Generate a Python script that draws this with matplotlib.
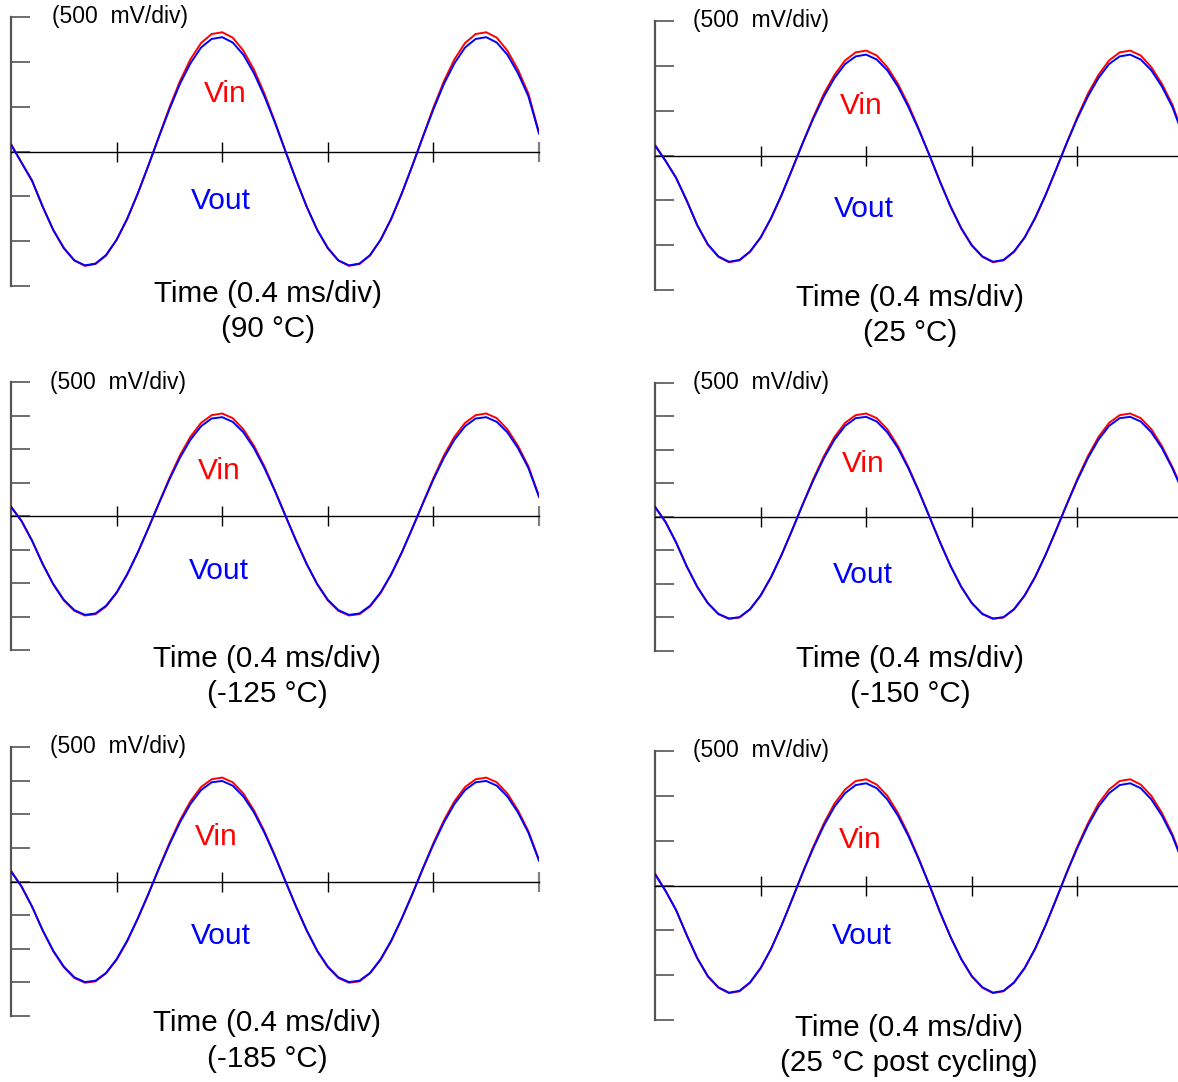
import matplotlib.pyplot as plt

plt.rcParams['font.family'] = ['Liberation Sans', 'DejaVu Sans']

W, H = 1178, 1082
fig = plt.figure(figsize=(W / 100, H / 100), dpi=100)

# time axis in divisions (0.4 ms/div)
t = [0.0, 0.1, 0.2, 0.3, 0.4, 0.5, 0.6, 0.7, 0.8, 0.9,
     1.0, 1.1, 1.2, 1.3, 1.4, 1.5, 1.6, 1.7, 1.8, 1.9,
     2.0, 2.1, 2.2, 2.3, 2.4, 2.5, 2.6, 2.7, 2.8, 2.9,
     3.0, 3.1, 3.2, 3.3, 3.4, 3.5, 3.6, 3.7, 3.8, 3.9,
     4.0, 4.1, 4.2, 4.3, 4.4, 4.5, 4.6, 4.7, 4.8, 4.9, 5.0]

# traces in vertical divisions (500 mV/div)
vout_90 = [0.15, -0.25, -0.65, -1.23, -1.75, -2.15, -2.43, -2.54, -2.50, -2.31, -1.97, -1.50, -0.94, -0.32,
           0.32, 0.94, 1.51, 1.97, 2.32, 2.51, 2.55, 2.43, 2.16, 1.75, 1.23, 0.64, 0.00,
           -0.63, -1.23, -1.75, -2.15, -2.43, -2.54, -2.50, -2.31, -1.97, -1.50, -0.94, -0.32,
           0.32, 0.94, 1.51, 1.97, 2.32, 2.51, 2.55, 2.43, 2.16, 1.75, 1.23, 0.40]
vin_90 = [0.17, -0.25, -0.66, -1.23, -1.75, -2.16, -2.43, -2.55, -2.51, -2.32, -1.97, -1.51, -0.94, -0.32,
          0.33, 0.98, 1.57, 2.06, 2.42, 2.62, 2.66, 2.54, 2.25, 1.83, 1.29, 0.66, 0.00,
          -0.64, -1.23, -1.75, -2.16, -2.43, -2.55, -2.51, -2.32, -1.97, -1.51, -0.94, -0.32,
          0.33, 0.98, 1.57, 2.06, 2.42, 2.62, 2.66, 2.54, 2.25, 1.83, 1.29, 0.42]

vout_25 = [0.22, -0.12, -0.50, -1.00, -1.55, -1.98, -2.25, -2.37, -2.33, -2.14, -1.83, -1.39, -0.87, -0.30,
           0.28, 0.83, 1.32, 1.73, 2.04, 2.21, 2.25, 2.14, 1.90, 1.54, 1.08, 0.56, 0.00,
           -0.59, -1.14, -1.62, -2.00, -2.25, -2.37, -2.33, -2.14, -1.83, -1.39, -0.87, -0.30,
           0.28, 0.83, 1.32, 1.73, 2.04, 2.21, 2.25, 2.14, 1.90, 1.54, 1.08, 0.45]
vin_25 = [0.24, -0.12, -0.50, -1.01, -1.56, -1.99, -2.26, -2.38, -2.34, -2.15, -1.83, -1.40, -0.88, -0.30,
          0.29, 0.86, 1.38, 1.80, 2.12, 2.30, 2.34, 2.23, 1.97, 1.60, 1.13, 0.58, 0.00,
          -0.59, -1.15, -1.63, -2.01, -2.26, -2.38, -2.34, -2.15, -1.83, -1.40, -0.88, -0.30,
          0.29, 0.86, 1.38, 1.80, 2.12, 2.30, 2.34, 2.23, 1.97, 1.60, 1.13, 0.47]

vout_m125 = [0.27, -0.15, -0.74, -1.43, -2.03, -2.50, -2.81, -2.95, -2.91, -2.68, -2.28, -1.74, -1.09, -0.37,
             0.37, 1.09, 1.74, 2.28, 2.68, 2.91, 2.95, 2.81, 2.50, 2.03, 1.43, 0.74, 0.00,
             -0.74, -1.43, -2.03, -2.50, -2.81, -2.95, -2.91, -2.68, -2.28, -1.74, -1.09, -0.37,
             0.37, 1.09, 1.74, 2.28, 2.68, 2.91, 2.95, 2.81, 2.50, 2.03, 1.43, 0.57]
vin_m125 = [0.29, -0.15, -0.74, -1.44, -2.04, -2.52, -2.83, -2.97, -2.93, -2.70, -2.30, -1.75, -1.10, -0.37,
            0.38, 1.13, 1.81, 2.37, 2.78, 3.01, 3.06, 2.92, 2.59, 2.10, 1.48, 0.76, 0.00,
            -0.74, -1.44, -2.04, -2.52, -2.83, -2.97, -2.93, -2.70, -2.30, -1.75, -1.10, -0.37,
            0.38, 1.13, 1.81, 2.37, 2.78, 3.01, 3.06, 2.92, 2.59, 2.10, 1.48, 0.59]

vout_m150 = [0.30, -0.15, -0.76, -1.47, -2.08, -2.57, -2.89, -3.03, -2.99, -2.75, -2.34, -1.79, -1.12, -0.38,
             0.38, 1.10, 1.76, 2.31, 2.72, 2.95, 2.99, 2.85, 2.53, 2.06, 1.45, 0.75, 0.00,
             -0.76, -1.47, -2.08, -2.57, -2.89, -3.03, -2.99, -2.75, -2.34, -1.79, -1.12, -0.38,
             0.38, 1.10, 1.76, 2.31, 2.72, 2.95, 2.99, 2.85, 2.53, 2.06, 1.45, 0.75]
vin_m150 = [0.31, -0.15, -0.76, -1.47, -2.09, -2.57, -2.90, -3.04, -3.00, -2.76, -2.35, -1.79, -1.12, -0.38,
            0.39, 1.14, 1.82, 2.39, 2.81, 3.04, 3.09, 2.95, 2.62, 2.12, 1.49, 0.77, 0.00,
            -0.76, -1.47, -2.09, -2.57, -2.90, -3.04, -3.00, -2.76, -2.35, -1.79, -1.12, -0.38,
            0.39, 1.14, 1.82, 2.39, 2.81, 3.04, 3.09, 2.95, 2.62, 2.12, 1.49, 0.77]

vout_m185 = [0.30, -0.15, -0.75, -1.45, -2.06, -2.53, -2.85, -2.99, -2.95, -2.72, -2.31, -1.76, -1.10, -0.38,
             0.38, 1.10, 1.76, 2.31, 2.72, 2.95, 2.99, 2.85, 2.53, 2.06, 1.45, 0.75, 0.00,
             -0.75, -1.45, -2.06, -2.53, -2.85, -2.99, -2.95, -2.72, -2.31, -1.76, -1.10, -0.38,
             0.38, 1.10, 1.76, 2.31, 2.72, 2.95, 2.99, 2.85, 2.53, 2.06, 1.45, 0.62]
vin_m185 = [0.32, -0.15, -0.75, -1.46, -2.07, -2.55, -2.87, -3.01, -2.97, -2.73, -2.33, -1.78, -1.11, -0.38,
            0.39, 1.14, 1.82, 2.39, 2.81, 3.04, 3.09, 2.95, 2.62, 2.12, 1.49, 0.77, 0.00,
            -0.75, -1.46, -2.07, -2.55, -2.87, -3.01, -2.97, -2.73, -2.33, -1.78, -1.11, -0.38,
            0.39, 1.14, 1.82, 2.39, 2.81, 3.04, 3.09, 2.95, 2.62, 2.12, 1.49, 0.64]

vout_post = [0.25, -0.12, -0.55, -1.10, -1.62, -2.02, -2.27, -2.39, -2.35, -2.16, -1.84, -1.41, -0.88, -0.30,
             0.29, 0.84, 1.34, 1.76, 2.06, 2.24, 2.28, 2.17, 1.92, 1.56, 1.10, 0.57, 0.00,
             -0.60, -1.15, -1.64, -2.02, -2.27, -2.39, -2.35, -2.16, -1.84, -1.41, -0.88, -0.30,
             0.29, 0.84, 1.34, 1.76, 2.06, 2.24, 2.28, 2.17, 1.92, 1.56, 1.10, 0.50]
vin_post = [0.27, -0.12, -0.55, -1.11, -1.62, -2.03, -2.28, -2.40, -2.36, -2.17, -1.85, -1.41, -0.88, -0.30,
            0.30, 0.87, 1.39, 1.83, 2.14, 2.33, 2.37, 2.25, 2.00, 1.62, 1.14, 0.59, 0.00,
            -0.60, -1.16, -1.64, -2.03, -2.28, -2.40, -2.36, -2.17, -1.85, -1.41, -0.88, -0.30,
            0.30, 0.87, 1.39, 1.83, 2.14, 2.33, 2.37, 2.25, 2.00, 1.62, 1.14, 0.52]

conditions = ['(90 \u00b0C)', '(25 \u00b0C)', '(-125 \u00b0C)', '(-150 \u00b0C)', '(-185 \u00b0C)',
              '(25 \u00b0C post cycling)']


def fx(px):
    return px / W


def fy(py):
    return 1 - py / H


def panel(left, top, bottom, ndiv, vin, vout, cond, scale_xy, vin_xy, vout_xy, lab_x, lab_y):
    ax = fig.add_axes([fx(left), fy(bottom), 528 / W, (bottom - top) / H])
    ax.plot(t, vin, color='#ff0000', lw=1.4, zorder=3)
    ax.plot(t, vout, color='#0000ff', lw=1.4, zorder=3)
    ax.set_xlim(0, 5)
    ax.set_ylim(-ndiv, ndiv)
    ax.patch.set_visible(False)
    ax.spines['top'].set_visible(False)
    ax.spines['right'].set_visible(False)
    ax.spines['left'].set_color('#555555')
    ax.spines['left'].set_linewidth(1.6)
    ax.spines['bottom'].set_position(('data', 0))
    ax.spines['bottom'].set_color('black')
    ax.spines['bottom'].set_linewidth(1.0)
    ax.set_xticks([1, 2, 3, 4, 5])
    ax.set_yticks(list(range(-ndiv, ndiv + 1)))
    ax.tick_params(axis='x', direction='inout', length=14, width=1.0, color='black',
                   labelbottom=False)
    ax.tick_params(axis='y', direction='in', length=14, width=1.2, color='#555555',
                   labelleft=False)
    # end-of-trace tick is grey on the scope shot
    end_tick = ax.xaxis.get_major_ticks()[-1].tick1line
    end_tick.set_markeredgecolor('#808080')
    end_tick.set_markeredgewidth(1.6)

    fig.text(fx(scale_xy[0]), fy(scale_xy[1]), '(500  mV/div)', ha='left', va='center',
             fontsize=16.5)
    fig.text(fx(vin_xy[0]), fy(vin_xy[1]), 'Vin', color='#ff0000', ha='center',
             va='baseline', fontsize=21.5)
    fig.text(fx(vout_xy[0]), fy(vout_xy[1]), 'Vout', color='#0000ff', ha='center',
             va='baseline', fontsize=21.5)
    fig.text(fx(lab_x), fy(lab_y[0]), 'Time (0.4 ms/div)', ha='center', va='baseline',
             fontsize=21.3)
    fig.text(fx(lab_x), fy(lab_y[1]), cond, ha='center', va='baseline', fontsize=21.3)


panel(11, 17, 286, 3, vin_90, vout_90, conditions[0], (52, 17), (225, 102), (221, 209), 268, (302, 337))
panel(655, 21, 290, 3, vin_25, vout_25, conditions[1], (693, 21), (861, 114), (864, 217), 910, (306, 341))
panel(11, 382, 650, 4, vin_m125, vout_m125, conditions[2], (50, 382), (219, 479), (219, 579), 267, (667, 702))
panel(655, 383, 651, 4, vin_m150, vout_m150, conditions[3], (693, 382), (863, 472), (863, 583), 910, (667, 702))
panel(11, 747, 1016, 4, vin_m185, vout_m185, conditions[4], (50, 746), (216, 845), (221, 944), 267, (1031, 1067))
panel(655, 751, 1020, 3, vin_post, vout_post, conditions[5], (693, 750), (860, 848), (862, 944), 909, (1036, 1071))

fig.savefig('out.png', dpi=100)
